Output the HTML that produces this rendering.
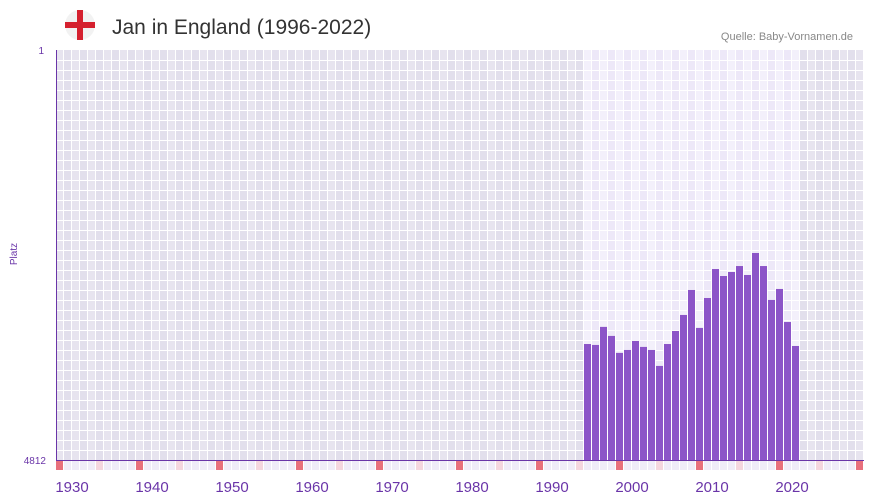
<!DOCTYPE html>
<html><head><meta charset="utf-8"><style>
body{margin:0;background:#fff;font-family:"Liberation Sans",sans-serif;}
svg{display:block}
</style></head><body>
<svg width="873" height="502" id="c">
<g>
<circle cx="80" cy="25" r="15" fill="#f2f2f2"/>
<rect x="65" y="22" width="30" height="6" fill="#d5202e"/>
<rect x="77" y="10" width="6" height="30" fill="#d5202e"/>
</g>
<text x="112" y="34" font-size="21" fill="#333">Jan in England (1996-2022)</text>
<text x="853" y="40" font-size="11" fill="#888" text-anchor="end">Quelle: Baby-Vornamen.de</text>
<g id="bg"></g><g id="bars"></g><g id="axes"></g>
</svg>
<script>
const years=[1996,1997,1998,1999,2000,2001,2002,2003,2004,2005,2006,2007,2008,2009,2010,2011,2012,2013,2014,2015,2016,2017,2018,2019,2020,2021,2022];
const ranks=[3451,3462,3250,3356,3555,3521,3415,3485,3521,3708,3451,3298,3110,2817,3262,2911,2571,2653,2606,2536,2641,2383,2536,2934,2805,3193,3474];
const tickYears=[1930,1940,1950,1960,1970,1980,1990,2000,2010,2020];
const maxRank=4812;
const NS="http://www.w3.org/2000/svg";
const X0=56,Y0=50,Y1=460,CW=8,START=1930,END=2031;
function x(y){return X0+(y-START)*CW;}
function yR(r){return Y0+(r-1)/(maxRank-1)*(Y1-Y0);}
function mk(t,a,p){const e=document.createElementNS(NS,t);for(const k in a)e.setAttribute(k,a[k]);p.appendChild(e);return e;}
const bg=document.getElementById('bg'),bars=document.getElementById('bars'),ax=document.getElementById('axes');
const first=years[0],last=years[years.length-1];
for(let yr=START;yr<END;yr++){
 const inR=yr>=first&&yr<=last;const alt=yr%2;
 const fill=inR?(alt?'#ede8f8':'#f3f0fb'):(alt?'#e2dfec':'#e7e4ef');
 const r=mk('rect',{x:x(yr),y:Y0,width:CW,height:Y1-Y0,fill:fill},bg);
 
 
 const sf=yr%10==0?'#e8707c':(yr%10==5?'#f5d6de':'#f0ecf8');
 const s=mk('rect',{x:x(yr),y:Y1+1,width:CW,height:9,fill:sf},bg);
 
 
 mk('line',{x1:x(yr)+CW-0.5,x2:x(yr)+CW-0.5,y1:Y0,y2:Y1+10,stroke:'#fff','stroke-width':1},bg);
}
for(let yy=Y0+10;yy<Y1;yy+=10)mk('line',{x1:X0,x2:x(END),y1:yy+0.5,y2:yy+0.5,stroke:'#fff','stroke-width':1},bg);
years.forEach((yr,i)=>{
 const t=yR(ranks[i]);
 const b=mk('rect',{x:x(yr),y:t,width:CW-1,height:Y1-t,fill:'#8c55c8'},bars);
 
 
});
mk('line',{x1:X0+0.5,x2:X0+0.5,y1:Y0,y2:Y1+0.5,stroke:'#6a35a8','stroke-width':1},ax);
mk('line',{x1:X0,x2:x(END),y1:Y1+0.5,y2:Y1+0.5,stroke:'#6a35a8','stroke-width':1},ax);
tickYears.forEach(yr=>{
 const t=mk('text',{x:x(yr)+16,y:492,'font-size':15,fill:'#6a35a8','text-anchor':'middle'},ax);
 t.textContent=yr;
 
 
});
const t1=mk('text',{x:44,y:54,'font-size':10,fill:'#6a35a8','text-anchor':'end'},ax);t1.textContent='1';


const t2=mk('text',{x:46,y:464,'font-size':10,fill:'#6a35a8','text-anchor':'end'},ax);t2.textContent=String(maxRank);


const yt=mk('text',{x:17,y:254,'font-size':10,fill:'#6a35a8','text-anchor':'middle',transform:'rotate(-90 17 254)'},ax);yt.textContent='Platz';


</script>
</body></html>
